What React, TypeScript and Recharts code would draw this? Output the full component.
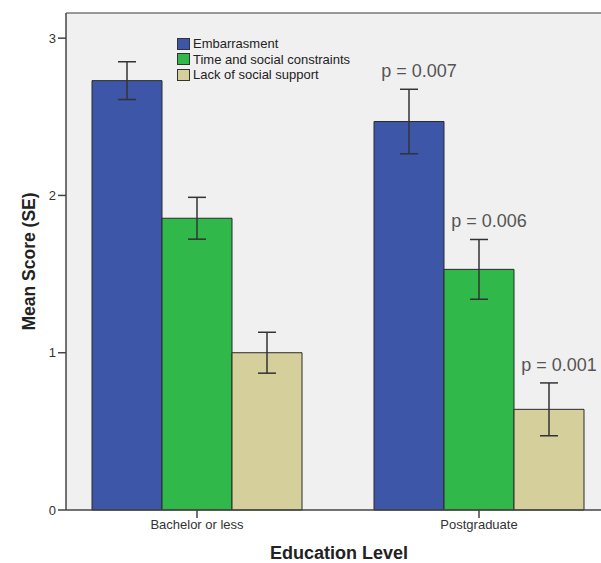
import { BarChart, Bar, XAxis, YAxis, CartesianGrid, ErrorBar, LabelList, Legend, ReferenceLine, Label } from 'recharts';

const categories = ['Bachelor or less', 'Postgraduate'];
const embarrassment = [2.73, 2.47];
const embarrassmentSE = [0.12, 0.205];
const timeConstraints = [1.855, 1.53];
const timeConstraintsSE = [0.133, 0.19];
const socialSupport = [1.0, 0.64];
const socialSupportSE = [0.13, 0.168];
const pValues = ['p = 0.007', 'p = 0.006', 'p = 0.001'];
const yTicks = [0, 1, 2, 3];
const yMax = 3.16;

const series = [
  { key: 'emb', errKey: 'embSE', name: 'Embarrasment', color: '#3d56a8' },
  { key: 'time', errKey: 'timeSE', name: 'Time and social constraints', color: '#30b84a' },
  { key: 'lack', errKey: 'lackSE', name: 'Lack of social support', color: '#d5cf9b' }
];

const chartData = categories.map((cat, i) => ({
  cat,
  emb: embarrassment[i],
  embSE: embarrassmentSE[i],
  time: timeConstraints[i],
  timeSE: timeConstraintsSE[i],
  lack: socialSupport[i],
  lackSE: socialSupportSE[i]
}));

const font = '"Liberation Sans", Arial, sans-serif';

function LegendBox() {
  return (
    <div style={{ fontFamily: font, fontSize: '13px', color: '#222' }}>
      {series.map(s => (
        <div key={s.key} style={{ display: 'flex', alignItems: 'center', height: '15.5px', whiteSpace: 'nowrap' }}>
          <span style={{
            display: 'inline-block',
            width: '11px',
            height: '10px',
            background: s.color,
            border: '1px solid #333',
            marginRight: '3px'
          }} />
          <span>{s.name}</span>
        </div>
      ))}
    </div>
  );
}

// p-value label above the error bar of postgraduate bars
function makePLabel(seriesIdx: number, errors: number[], values: number[]) {
  return (props: any) => {
    const { x, y, width, height, index } = props;
    if (index !== 1) return null;
    const pxPerUnit = height / values[index];
    const errTop = y - errors[index] * pxPerUnit;
    return (
      <text
        x={x + width / 2 + 10}
        y={errTop - 12}
        textAnchor="middle"
        fontSize={18}
        fill="#555"
        fontFamily={font}
      >
        {pValues[seriesIdx]}
      </text>
    );
  };
}

const seriesValues = [embarrassment, timeConstraints, socialSupport];
const seriesErrors = [embarrassmentSE, timeConstraintsSE, socialSupportSE];

export default function App() {
  return (
    <div style={{ position: 'absolute', left: 0, top: 0, width: 601, height: 563, overflow: 'hidden', background: '#fff' }}>
      <BarChart
        width={620}
        height={563}
        data={chartData}
        margin={{ top: 13, right: 0, left: 0, bottom: 0 }}
        barGap={0}
        barSize={70}
      >
        <CartesianGrid fill="#f0f0f0" horizontal={false} vertical={false} />
        <ReferenceLine y={yMax} stroke="#777" strokeWidth={1.5} />
        <XAxis
          dataKey="cat"
          height={53}
          padding={{ left: -10, right: 0 }}
          stroke="#444"
          strokeWidth={1.5}
          tickSize={8}
          tickMargin={2}
          tick={{ fontSize: 13, fill: '#333', fontFamily: font }}
        >
          <Label
            value="Education Level"
            position="insideBottom"
            offset={4}
            dx={-4}
            style={{ fontSize: 18, fontWeight: 'bold', fill: '#222', fontFamily: font }}
          />
        </XAxis>
        <YAxis
          width={66}
          domain={[0, yMax]}
          ticks={yTicks}
          stroke="#444"
          strokeWidth={1.5}
          tickSize={8}
          tickMargin={2}
          tick={{ fontSize: 13, fill: '#333', fontFamily: font }}
        >
          <Label
            content={(props: any) => {
              const vb = props.viewBox;
              const cx = 30;
              const cy = vb.y + vb.height / 2;
              return (
                <text
                  x={cx}
                  y={cy}
                  transform={`rotate(-90 ${cx} ${cy})`}
                  textAnchor="middle"
                  dominantBaseline="middle"
                  fontSize={17.5}
                  fontWeight="bold"
                  fill="#222"
                  fontFamily={font}
                >
                  Mean Score (SE)
                </text>
              );
            }}
          />
        </YAxis>
        <Legend
          layout="horizontal"
          align="center"
          verticalAlign="middle"
          wrapperStyle={{ left: 177, top: 36, width: 'auto' }}
          content={() => <LegendBox />}
        />
        {series.map((s, si) => (
          <Bar
            key={s.key}
            dataKey={s.key}
            name={s.name}
            fill={s.color}
            stroke="#2a2a2a"
            strokeWidth={1}
            isAnimationActive={false}
          >
            <ErrorBar dataKey={s.errKey} width={9} stroke="#333" strokeWidth={1.5} />
            <LabelList content={makePLabel(si, seriesErrors[si], seriesValues[si])} />
          </Bar>
        ))}
      </BarChart>
    </div>
  );
}
